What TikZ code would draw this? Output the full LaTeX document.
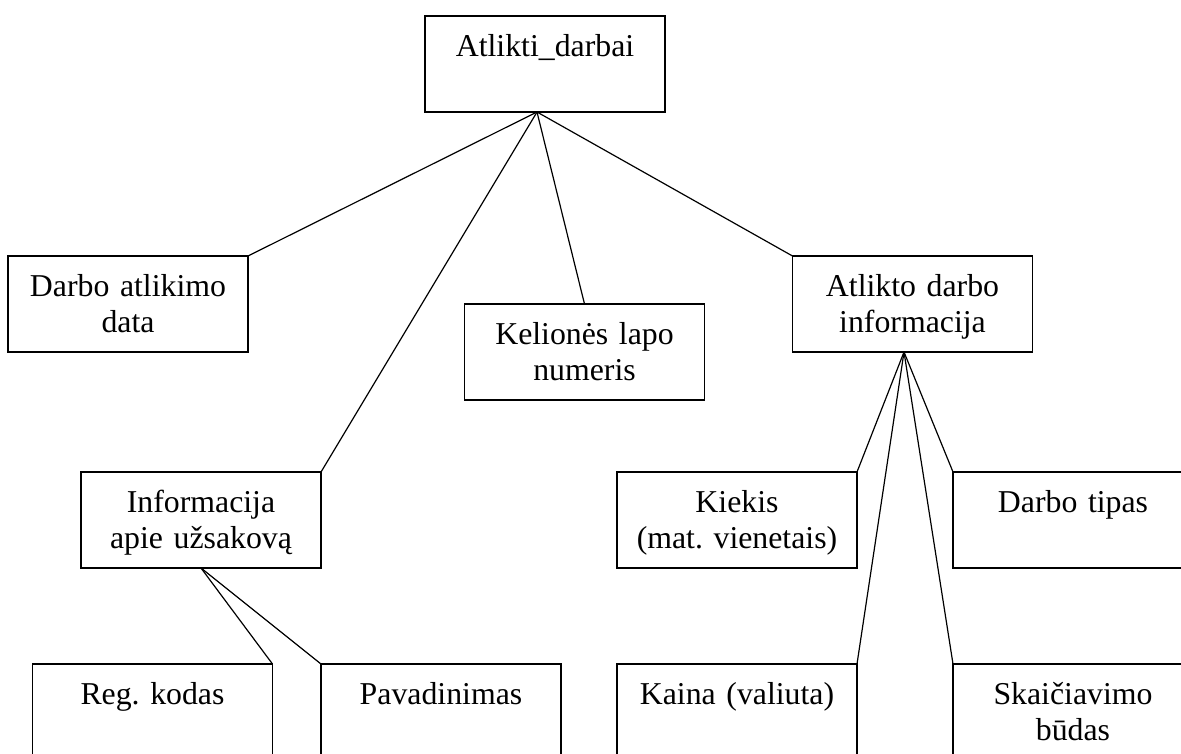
\documentclass[tikz,border=0pt]{standalone}
\usepackage{fontspec}
\setmainfont{Liberation Serif}
\frenchspacing
\usetikzlibrary{positioning}

\begin{document}
\begin{tikzpicture}[x=1pt, y=-1pt,
  ent/.style={draw, line width=1.7pt, minimum width=240pt, minimum height=96pt, inner sep=0pt, outer sep=0pt},
  txt/.style={anchor=base, yshift=-40pt, text width=236pt, align=center, inner sep=0pt, font=\fontsize{31.8pt}{36.5pt}\selectfont},
  link/.style={line width=1.2pt}]
	\useasboundingbox (0,0) rectangle (1181,753);
	\clip (0,0) rectangle (1181,753);
	% entities
	\node[ent, label={[txt]north:{Atlikti\_darbai}}] (atlikti) at (545,64) {};
	\node[ent, label={[txt]north:{Darbo atlikimo\\data}}] (datos) at (128,304) {};
	\node[ent, label={[txt]north:{Kelionės lapo\\numeris}}] (kelione) at (584.5,352) {};
	\node[ent, label={[txt]north:{Atlikto darbo\\informacija}}] (atlikto) at (912.5,304) {};
	\node[ent, label={[txt]north:{Informacija\\apie užsakovą}}] (info) at (201,520) {};
	\node[ent, label={[txt]north:{Reg. kodas}}] (regkodas) at (152.5,712) {};
	\node[ent, label={[txt]north:{Pavadinimas}}] (pavad) at (441,712) {};
	\node[ent, label={[txt]north:{Kiekis\\(mat. vienetais)}}] (kiekis) at (737,520) {};
	\node[ent, label={[txt]north:{Darbo tipas}}] (tipas) at (1073,520) {};
	\node[ent, label={[txt]north:{Kaina (valiuta)}}] (kaina) at (737,712) {};
	\node[ent, label={[txt]north:{Skaičiavimo\\būdas}}] (budas) at (1073,712) {};
	% connectors
	\coordinate (atlikti-j) at ([xshift=-8pt]atlikti.south);
	\coordinate (atlikto-j) at ([xshift=-8.5pt]atlikto.south);
	\foreach \t in {datos.north east, info.north east, kelione.north, atlikto.north west}
	  \draw[link] (atlikti-j) -- (\t);
	\foreach \t in {kiekis.north east, kaina.north east, tipas.north west, budas.north west}
	  \draw[link] (atlikto-j) -- (\t);
	\draw[link] (info.south) -- (regkodas.north east);
	\draw[link] (info.south) -- (pavad.north west);
\end{tikzpicture}
\end{document}
